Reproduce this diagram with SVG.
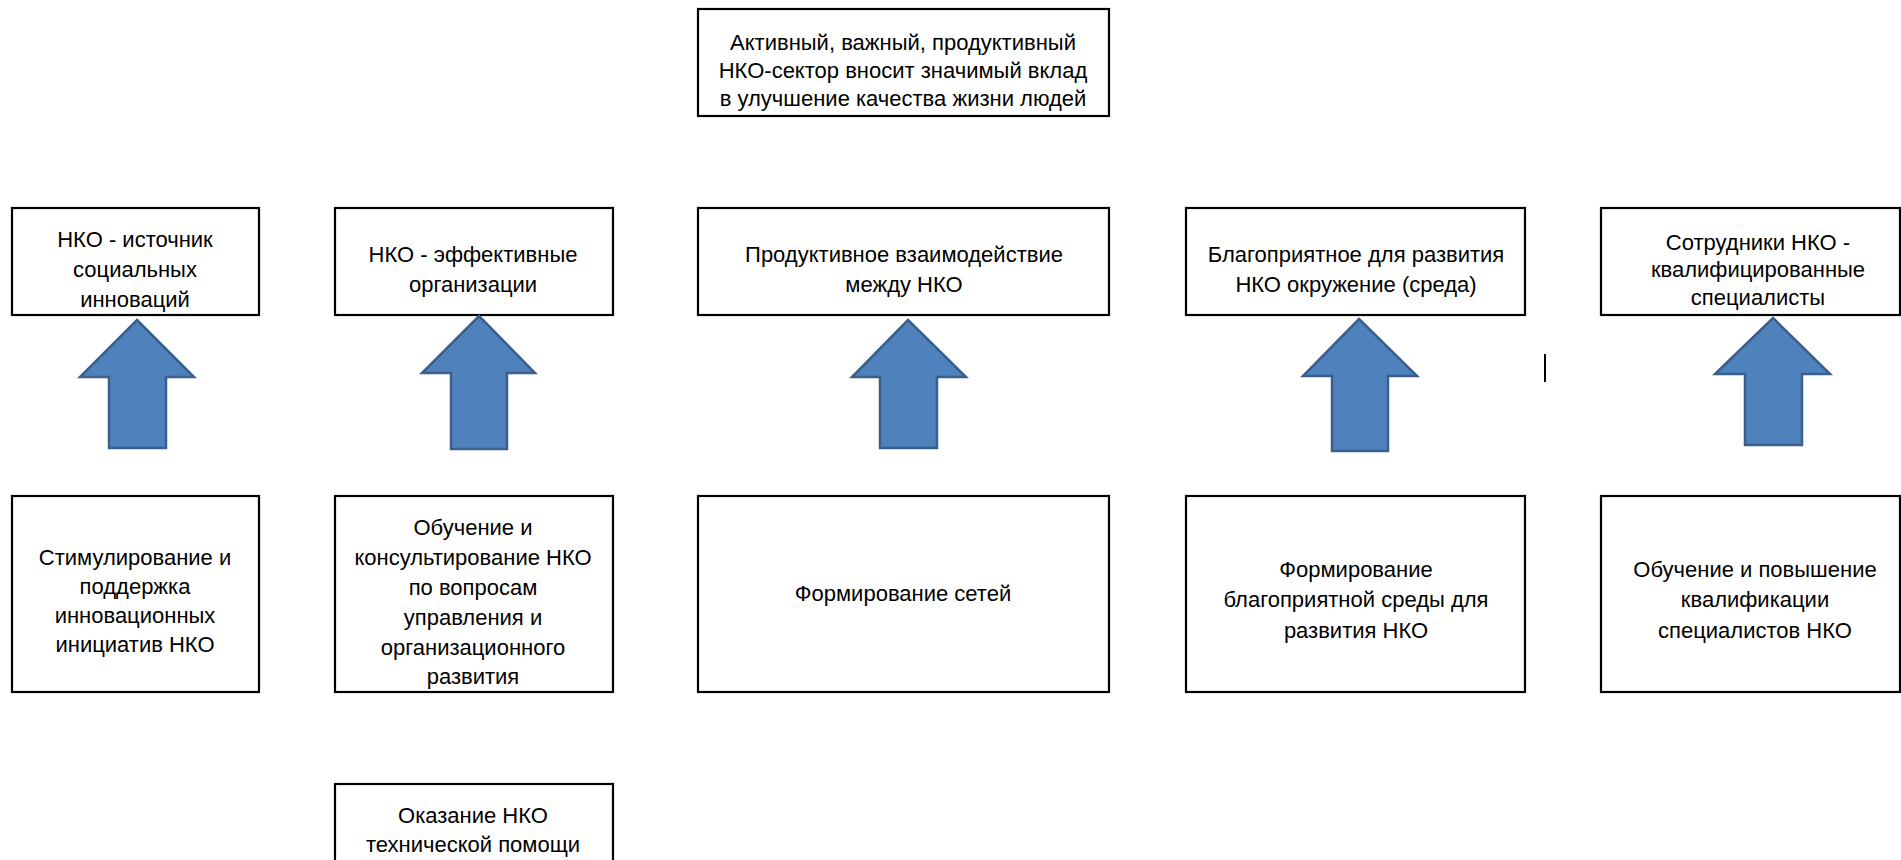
<svg xmlns="http://www.w3.org/2000/svg" width="1901" height="860" viewBox="0 0 1901 860">
  <style>
    .box { fill: #ffffff; stroke: #000000; stroke-width: 2.2; }
    .lbl { font-family: "Liberation Sans", Arial, sans-serif; font-size: 22px; fill: #000000; text-anchor: middle; }
    .arrow { fill: #4F81BD; stroke: #3A5F8D; stroke-width: 2.5; stroke-linejoin: miter; }
  </style>
  <rect x="0" y="0" width="1901" height="860" fill="#ffffff"/>

  <g id="goal">
    <rect class="box" x="698" y="9" width="411" height="107"/>
    <text class="lbl" x="903" y="50">Активный, важный, продуктивный</text>
    <text class="lbl" x="903" y="78">НКО-сектор вносит значимый вклад</text>
    <text class="lbl" x="903" y="106">в улучшение качества жизни людей</text>
  </g>

  <g id="result1">
    <rect class="box" x="12" y="208" width="247" height="107"/>
    <text class="lbl" x="135" y="247">НКО - источник</text>
    <text class="lbl" x="135" y="277">социальных</text>
    <text class="lbl" x="135" y="307">инноваций</text>
  </g>
  <g id="result2">
    <rect class="box" x="335" y="208" width="278" height="107"/>
    <text class="lbl" x="473" y="262">НКО - эффективные</text>
    <text class="lbl" x="473" y="292">организации</text>
  </g>
  <g id="result3">
    <rect class="box" x="698" y="208" width="411" height="107"/>
    <text class="lbl" x="904" y="262">Продуктивное взаимодействие</text>
    <text class="lbl" x="904" y="292">между НКО</text>
  </g>
  <g id="result4">
    <rect class="box" x="1186" y="208" width="339" height="107"/>
    <text class="lbl" x="1356" y="262">Благоприятное для развития</text>
    <text class="lbl" x="1356" y="292">НКО окружение (среда)</text>
  </g>
  <g id="result5">
    <rect class="box" x="1601" y="208" width="299" height="107"/>
    <text class="lbl" x="1758" y="250">Сотрудники НКО -</text>
    <text class="lbl" x="1758" y="277">квалифицированные</text>
    <text class="lbl" x="1758" y="305">специалисты</text>
  </g>

  <g id="action1">
    <rect class="box" x="12" y="496" width="247" height="196"/>
    <text class="lbl" x="135" y="565">Стимулирование и</text>
    <text class="lbl" x="135" y="594">поддержка</text>
    <text class="lbl" x="135" y="623">инновационных</text>
    <text class="lbl" x="135" y="652">инициатив НКО</text>
  </g>
  <g id="action2">
    <rect class="box" x="335" y="496" width="278" height="196"/>
    <text class="lbl" x="473" y="535">Обучение и</text>
    <text class="lbl" x="473" y="565">консультирование НКО</text>
    <text class="lbl" x="473" y="595">по вопросам</text>
    <text class="lbl" x="473" y="625">управления и</text>
    <text class="lbl" x="473" y="655">организационного</text>
    <text class="lbl" x="473" y="684">развития</text>
  </g>
  <g id="action3">
    <rect class="box" x="698" y="496" width="411" height="196"/>
    <text class="lbl" x="903" y="601">Формирование сетей</text>
  </g>
  <g id="action4">
    <rect class="box" x="1186" y="496" width="339" height="196"/>
    <text class="lbl" x="1356" y="577">Формирование</text>
    <text class="lbl" x="1356" y="607">благоприятной среды для</text>
    <text class="lbl" x="1356" y="638">развития НКО</text>
  </g>
  <g id="action5">
    <rect class="box" x="1601" y="496" width="299" height="196"/>
    <text class="lbl" x="1755" y="577">Обучение и повышение</text>
    <text class="lbl" x="1755" y="607">квалификации</text>
    <text class="lbl" x="1755" y="638">специалистов НКО</text>
  </g>
  <g id="action2b">
    <rect class="box" x="335" y="784" width="278" height="90"/>
    <text class="lbl" x="473" y="823">Оказание НКО</text>
    <text class="lbl" x="473" y="852">технической помощи</text>
  </g>

  <g id="connectors">
    <path class="arrow" d="M137,320 L194,377 L166,377 L166,448 L109,448 L109,377 L80,377 Z"/>
    <path class="arrow" d="M479,316 L535,373 L507,373 L507,449 L451,449 L451,373 L422,373 Z"/>
    <path class="arrow" d="M908,320 L966,377 L937,377 L937,448 L880,448 L880,377 L852,377 Z"/>
    <path class="arrow" d="M1359,319 L1417,376 L1388,376 L1388,451 L1332,451 L1332,376 L1303,376 Z"/>
    <path class="arrow" d="M1773,318 L1830,374 L1802,374 L1802,445 L1745,445 L1745,374 L1715,374 Z"/>
  </g>

  <line x1="1545" y1="354" x2="1545" y2="382" stroke="#000000" stroke-width="2"/>
</svg>
